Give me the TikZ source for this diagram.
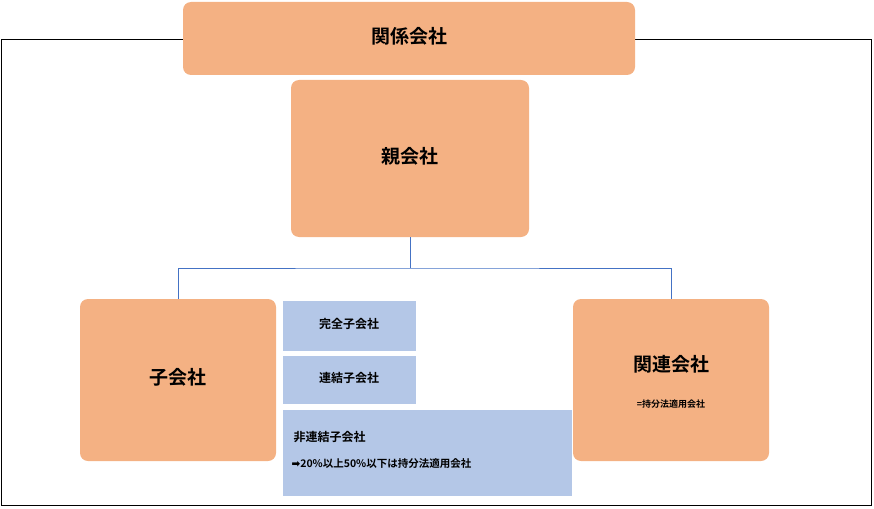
\documentclass[tikz,border=0pt]{standalone}
\usepackage{fontspec}
\setmainfont{Noto Sans CJK JP}[BoldFont={* Bold}]
\newfontfamily\symf{DejaVu Sans}
\definecolor{org}{HTML}{F4B183}
\definecolor{blu}{HTML}{B4C7E7}
\definecolor{lin}{HTML}{4472C4}
\begin{document}
\begin{tikzpicture}[x=1pt,y=-1pt,
  ob/.style={fill=org,rounded corners=8pt,draw=none},
  bb/.style={fill=blu,draw=none},
  lbl/.style={font=\bfseries}]
\useasboundingbox (0,0) rectangle (874,508);
\draw[black,line width=0.8pt] (1,39) rectangle (871,505);
\path[ob] (183,2) rectangle (635,75);
\node[lbl,font=\bfseries\fontsize{19}{22}\selectfont] (top) at (409,36) {関係会社};
\path[ob] (291,80) rectangle (529,237);
\node[lbl,font=\bfseries\fontsize{19}{22}\selectfont] (oya) at (410,156) {親会社};
\path[ob] (80,299) rectangle (276,461);
\node[lbl,font=\bfseries\fontsize{19}{22}\selectfont] (ko) at (178,377) {子会社};
\path[ob] (573,299) rectangle (769,461);
\node[lbl,font=\bfseries\fontsize{19}{22}\selectfont] (kan) at (671,364) {関連会社};
\node[font=\bfseries\fontsize{9}{11}\selectfont] (kan2) at (671,404) {=持分法適用会社};
\path[bb] (283,301) rectangle (416,351);
\node[font=\bfseries\fontsize{12}{14}\selectfont] (k1) at (349,324) {完全子会社};
\path[bb] (283,356) rectangle (416,404);
\node[font=\bfseries\fontsize{12}{14}\selectfont] (k2) at (349,378) {連結子会社};
\path[bb] (283,410) rectangle (572,496);
\node[font=\bfseries\fontsize{12}{14}\selectfont,anchor=west] (k3) at (290,437) {非連結子会社};
\node[font=\bfseries\fontsize{10.5}{13}\selectfont,anchor=west] (k4) at (288,464) {{\symf ➡}20\%以上50\%以下は持分法適用会社};
\coordinate (j) at (410,268);
\draw[lin,line width=0.8pt] (410,237) -- (j) (178,299) |- (j) -| (671,299);
\end{tikzpicture}
\end{document}
